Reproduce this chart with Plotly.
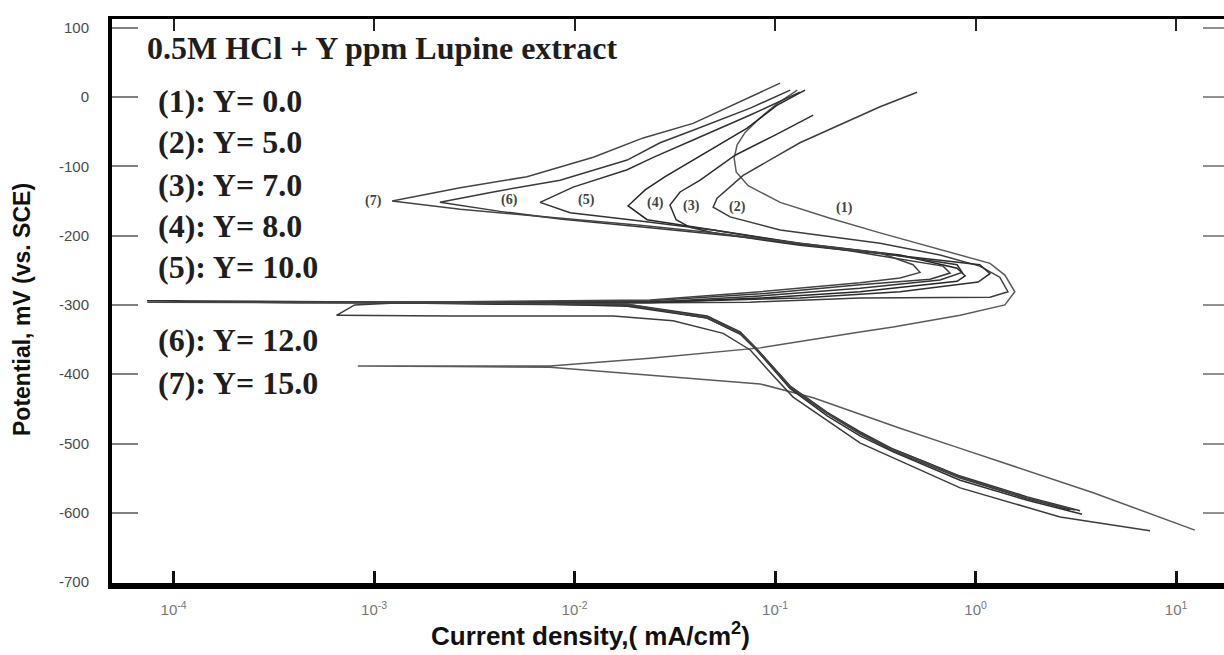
import numpy as np
import plotly.graph_objects as go

# ---------------- data (current density mA/cm^2, potential mV vs SCE) ----------------
i1 = [0.129, 0.102, 0.0843, 0.0709, 0.0647, 0.0625, 0.0640, 0.0734, 0.106, 0.188, 0.334, 0.593, 1.18,
      1.40, 1.57, 1.40, 0.838, 0.388, 0.265, 0.0843, 0.0238, 0.00755, 0.00239, 8.3e-4,
      0.00239, 0.00755, 0.0423, 0.0843, 0.155, 0.420, 0.838, 1.87, 3.86, 12.4]
E1 = [10, -10, -30, -51, -69, -88, -108, -128, -152, -175, -196, -216, -240,
      -257, -281, -300, -315, -332, -339, -362, -377, -388, -388, -388,
      -389, -390, -407, -414, -434, -478, -507, -541, -571, -625]

i2 = [0.511, 0.334, 0.133, 0.0693, 0.0514, 0.0491, 0.0597, 0.106, 0.334, 0.665, 1.05,
      1.32, 1.45, 1.18, 0.265, 0.0752, 0.0238, 0.00425, 0.00135, 8.0e-4, 6.5e-4,
      0.00239, 0.0156, 0.0310, 0.0551, 0.0752, 0.0944, 0.123, 0.265, 0.838, 2.64, 7.41]
E2 = [7, -14, -66, -113, -146, -159, -173, -192, -211, -228, -244,
      -260, -281, -289, -290, -296, -297, -296, -297, -300, -315,
      -316, -316, -323, -341, -365, -397, -433, -499, -564, -606, -626]

i3 = [0.155, 0.100, 0.0632, 0.0423, 0.0336, 0.0299, 0.0321, 0.0377, 0.0491, 0.133, 0.420, 1.05,
      1.18, 1.03, 0.420, 0.133, 0.0423, 0.0134, 0.00135, 7.4e-5,
      4.28e-4, 0.00425, 0.0183, 0.0458, 0.0670, 0.0815, 0.119, 0.182, 0.265, 0.388, 0.838, 1.81, 3.40]
E3 = [-26, -55, -84, -120, -137, -156, -177, -188, -196, -214, -229, -242,
      -255, -267, -281, -290, -294, -296, -296, -294,
      -297, -297, -302, -319, -342, -366, -421, -460, -489, -512, -553, -582, -602]

i4 = [0.141, 0.102, 0.0726, 0.0491, 0.0390, 0.0283, 0.0225, 0.0185, 0.0230, 0.0491, 0.133, 0.420, 0.809,
      0.887, 0.809, 0.265, 0.0843, 0.0238, 0.00425, 0.00116,
      0.00425, 0.0183, 0.0458, 0.0670, 0.0815, 0.119, 0.182, 0.265, 0.388, 0.573, 0.838, 1.22, 1.81, 2.64, 2.96]
E4 = [10, -12, -45, -74, -91, -115, -134, -157, -177, -192, -211, -228, -247,
      -258, -266, -281, -290, -297, -297, -297,
      -299, -300, -318, -341, -365, -418, -456, -485, -509, -528, -548, -564, -579, -592, -596]

i5 = [0.133, 0.0752, 0.0390, 0.0247, 0.0183, 0.00984, 0.00673, 0.0095, 0.0189, 0.0491, 0.133, 0.334, 0.809,
      0.857, 0.665, 0.265, 0.0843, 0.0238, 0.00425, 5.2e-4,
      0.00425, 0.0183, 0.0458, 0.0670, 0.0815, 0.119, 0.182, 0.265, 0.388, 0.838, 1.81, 3.32]
E5 = [7, -26, -62, -87, -105, -130, -152, -167, -177, -192, -212, -225, -242,
      -253, -264, -276, -287, -296, -296, -296,
      -297, -299, -316, -339, -364, -417, -455, -483, -508, -547, -577, -597]

i6 = [0.119, 0.0752, 0.0390, 0.0267, 0.0183, 0.00847, 0.00393, 0.00213, 0.00425, 0.00847, 0.0267, 0.0752, 0.236, 0.689,
      0.746, 0.593, 0.265, 0.0843, 0.0238, 0.00425, 1.21e-4,
      0.00135, 0.0183, 0.0458, 0.0670, 0.0815, 0.119, 0.182, 0.265, 0.388, 0.838, 1.81, 3.13]
E6 = [10, -16, -48, -66, -91, -120, -137, -152, -165, -176, -190, -203, -222, -244,
      -254, -263, -271, -284, -294, -296, -296,
      -297, -300, -319, -342, -366, -420, -457, -486, -511, -550, -580, -596]

i7 = [0.106, 0.0390, 0.0220, 0.0124, 0.00579, 0.00269, 0.00123, 0.00269, 0.0073, 0.0212, 0.0491, 0.133, 0.334, 0.488,
      0.528, 0.420, 0.265, 0.0843, 0.0238, 0.00135, 7.4e-5,
      0.00135, 0.0183, 0.0458, 0.0670, 0.0815, 0.119, 0.182, 0.265, 0.388, 0.838, 1.81, 2.96]
E7 = [20, -38, -59, -87, -115, -131, -150, -162, -173, -185, -196, -211, -225, -242,
      -253, -261, -268, -281, -293, -296, -296,
      -297, -299, -318, -341, -365, -418, -456, -485, -509, -548, -579, -594]

curves = [(i1, E1), (i2, E2), (i3, E3), (i4, E4), (i5, E5), (i6, E6), (i7, E7)]
curve_colors = ["#5a5a5a", "#3c3c3c", "#2e2e2e", "#262626", "#333333", "#3a3a3a", "#444444"]

label_text = ["(1)", "(2)", "(3)", "(4)", "(5)", "(6)", "(7)"]
label_i = [0.223, 0.0647, 0.0385, 0.0252, 0.0115, 0.00476, 0.00099]
label_E = [-160, -159, -157, -153, -149, -149, -150]

legend_lines = ["(1): Y= 0.0", "(2): Y= 5.0", "(3): Y= 7.0", "(4): Y= 8.0",
                "(5): Y= 10.0", "(6): Y= 12.0", "(7): Y= 15.0"]
legend_y = [101, 142, 185, 226, 267, 340, 383]   # pixel rows of the legend text block

x_tickvals = [1e-4, 1e-3, 1e-2, 1e-1, 1e0, 1e1]
x_ticktext = ["10<sup>-4</sup>", "10<sup>-3</sup>", "10<sup>-2</sup>", "10<sup>-1</sup>",
              "10<sup>0</sup>", "10<sup>1</sup>"]
y_tickvals = [100, 0, -100, -200, -300, -400, -500, -600, -700]
y_ticktext = ["100", "0", "-100", "-200", "-300", "-400", "-500", "-600", "-700"]

# ---------------- figure ----------------
W, H = 1224, 655
ML, MR, MT, MB = 112, 0, 19, 72
xr = [-4.307, 1.239]
yr = [-701.3, 112.6]

fig = go.Figure()
for (ii, ee), c in zip(curves, curve_colors):
    fig.add_trace(go.Scatter(x=ii, y=ee, mode="lines",
                             line=dict(color=c, width=1.5),
                             showlegend=False, hoverinfo="skip"))

# dummy trace for top/right mirror axes
fig.add_trace(go.Scatter(x=[1e-3], y=[0], xaxis="x2", yaxis="y2", mode="markers",
                         marker=dict(opacity=0), showlegend=False, hoverinfo="skip"))

serif = "Liberation Serif, Times New Roman, serif"
sans = "Liberation Sans, Arial, sans-serif"

ann = []
for t, xi, ye in zip(label_text, label_i, label_E):
    ann.append(dict(x=np.log10(xi), y=ye, xref="x", yref="y", text="<b>" + t + "</b>",
                    showarrow=False, font=dict(family=serif, size=14, color="#444")))

PW = W - ML - MR
ph = H - MT - MB
def py(row):
    return 1 - (row - MT) / ph

ann.append(dict(x=(145 - ML) / PW, y=py(48), xref="paper", yref="paper",
                xanchor="left", yanchor="middle", showarrow=False,
                text="<b>0.5M HCl + Y ppm Lupine extract</b>",
                font=dict(family=serif, size=32, color="#1e1e1e")))
for t, row in zip(legend_lines, legend_y):
    ann.append(dict(x=(156 - ML) / PW, y=py(row), xref="paper", yref="paper",
                    xanchor="left", yanchor="middle", showarrow=False,
                    text="<b>" + t + "</b>",
                    font=dict(family=serif, size=32, color="#1e1e1e")))

# axis titles
ann.append(dict(x=(22 - ML) / PW, y=py(310), xref="paper", yref="paper",
                xanchor="center", yanchor="middle", showarrow=False, textangle=-90,
                text="<b>Potential, mV (vs. SCE)</b>",
                font=dict(family=sans, size=23, color="#111")))
ann.append(dict(x=(590 - ML) / PW, y=py(634), xref="paper", yref="paper",
                xanchor="center", yanchor="middle", showarrow=False,
                text="<b>Current density,( mA/cm<sup>2</sup>)</b>",
                font=dict(family=sans, size=26, color="#111")))

fig.update_layout(
    width=W, height=H,
    margin=dict(l=ML, r=MR, t=MT, b=MB, pad=0),
    paper_bgcolor="white", plot_bgcolor="white",
    annotations=ann,
    xaxis=dict(type="log", range=xr, showgrid=False, zeroline=False,
               showline=True, linecolor="black", linewidth=6,
               ticks="inside", ticklen=12, tickwidth=2.5, tickcolor="#111",
               tickvals=x_tickvals, ticktext=x_ticktext,
               tickfont=dict(family=sans, size=15, color="#777"),
               ticklabelstandoff=8),
    yaxis=dict(range=yr, showgrid=False, zeroline=False,
               showline=True, linecolor="black", linewidth=4,
               ticks="inside", ticklen=26, tickwidth=2, tickcolor="#808080",
               tickvals=y_tickvals, ticktext=y_ticktext,
               tickfont=dict(family=sans, size=15, color="#4a4a4a"),
               ticklabelstandoff=16),
    xaxis2=dict(type="log", range=xr, overlaying="x", side="top", showgrid=False,
                zeroline=False, showline=True, linecolor="black", linewidth=3,
                ticks="inside", ticklen=12, tickwidth=2, tickcolor="#222",
                tickvals=x_tickvals, showticklabels=False),
    yaxis2=dict(range=yr, overlaying="y", side="right", showgrid=False, zeroline=False,
                showline=False, ticks="inside", ticklen=21, tickwidth=2,
                tickcolor="#909090", tickvals=y_tickvals, showticklabels=False),
)

fig.write_html("out.html", config={"displayModeBar": False},
               post_script="document.body.style.margin='0px';document.body.style.overflow='hidden';")
